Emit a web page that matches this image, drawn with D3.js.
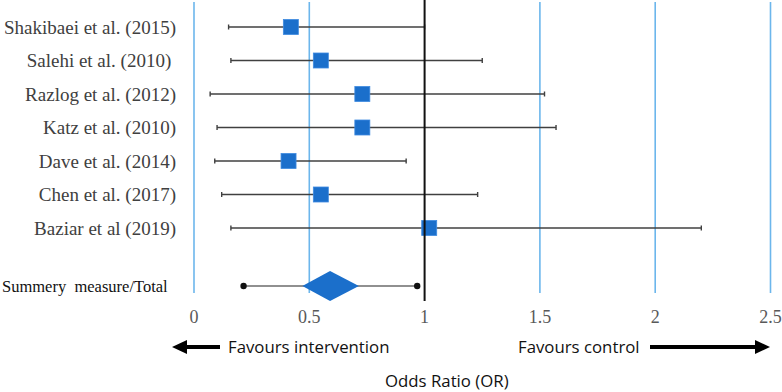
<!DOCTYPE html>
<html>
<head>
<meta charset="utf-8">
<script src="https://cdnjs.cloudflare.com/ajax/libs/d3/7.8.5/d3.min.js"></script>
<style>
  body { margin: 0; background: #fff; }
  svg { display: block; }
</style>
</head>
<body>
<div id="chart"></div>
<script>
// Study data (odds ratio with 95% CI)
const studies = ["Shakibaei et al. (2015)", "Salehi et al. (2010) ", "Razlog et al. (2012)",
                 "Katz et al. (2010)", "Dave et al. (2014)", "Chen et al. (2017)", "Baziar et al (2019)"];
const oddsRatio = [0.42, 0.55, 0.73, 0.73, 0.41, 0.55, 1.02];
const lowerCI   = [0.15, 0.16, 0.07, 0.10, 0.09, 0.12, 0.16];
const upperCI   = [1.00, 1.25, 1.52, 1.57, 0.92, 1.23, 2.20];

// Pooled estimate
const summaryLabel = "Summery  measure/Total";
const summaryOR = 0.59;
const summaryDiamond = [0.47, 0.715];
const summaryCI = [0.215, 0.968];

const xTicks = [0, 0.5, 1, 1.5, 2, 2.5];

const width = 782, height = 392;
const svg = d3.select("#chart").append("svg")
    .attr("width", width)
    .attr("height", height);

const serif = "'Liberation Serif', 'Times New Roman', serif";
const sans = "'Open Sans', 'Liberation Sans', sans-serif";

const x = d3.scaleLinear().domain([0, 2.5]).range([194, 770.5]);
const y = d3.scalePoint().domain(studies).range([27, 228]);
const ySummary = 286;

// Vertical grid lines (blue), the null line at 1 is black
svg.append("g").selectAll("line")
    .data(xTicks.filter(t => t !== 1))
    .join("line")
    .attr("x1", d => x(d)).attr("x2", d => x(d))
    .attr("y1", 2).attr("y2", 293)
    .attr("stroke", "#6cb6ec")
    .attr("stroke-width", 1.6);

// Tick labels
svg.append("g").selectAll("text")
    .data(xTicks)
    .join("text")
    .attr("x", d => x(d))
    .attr("y", 323)
    .attr("text-anchor", "middle")
    .attr("font-family", serif)
    .attr("font-size", 18)
    .attr("fill", "#595959")
    .text(d => d);

// Confidence interval whiskers
const rows = studies.map((s, i) => ({ name: s, or: oddsRatio[i], lo: lowerCI[i], hi: upperCI[i] }));
const g = svg.append("g");

g.selectAll("line.ci")
    .data(rows)
    .join("line")
    .attr("class", "ci")
    .attr("x1", d => x(d.lo)).attr("x2", d => x(d.hi))
    .attr("y1", d => y(d.name)).attr("y2", d => y(d.name))
    .attr("stroke", "#404040")
    .attr("stroke-width", 1.4);

["lo", "hi"].forEach(k => {
    g.selectAll("line.cap-" + k)
        .data(rows)
        .join("line")
        .attr("class", "cap-" + k)
        .attr("x1", d => x(d[k])).attr("x2", d => x(d[k]))
        .attr("y1", d => y(d.name) - 2.5).attr("y2", d => y(d.name) + 2.5)
        .attr("stroke", "#404040")
        .attr("stroke-width", 1.4);
});

// Null line at OR = 1
svg.append("line")
    .attr("x1", x(1)).attr("x2", x(1))
    .attr("y1", 0).attr("y2", 301)
    .attr("stroke", "#111")
    .attr("stroke-width", 2);

// Point estimates
const sq = 15;
g.selectAll("rect")
    .data(rows)
    .join("rect")
    .attr("x", d => x(d.or) - sq / 2)
    .attr("y", d => y(d.name) - sq / 2)
    .attr("width", sq).attr("height", sq)
    .attr("fill", "#1b6fcb")
    .attr("stroke", "#3f8be0")
    .attr("stroke-width", 0.8);

// Study labels
svg.append("g").selectAll("text")
    .data(rows)
    .join("text")
    .attr("x", 176)
    .attr("y", d => y(d.name))
    .attr("dy", "0.35em")
    .attr("text-anchor", "end")
    .attr("font-family", serif)
    .attr("font-size", 19)
    .attr("fill", "#404040")
    .style("white-space", "pre")
    .text(d => d.name);

// Summary row
svg.append("line")
    .attr("x1", x(summaryCI[0])).attr("x2", x(summaryCI[1]))
    .attr("y1", ySummary).attr("y2", ySummary)
    .attr("stroke", "#222")
    .attr("stroke-width", 1.2);

svg.selectAll("circle.sum")
    .data(summaryCI)
    .join("circle")
    .attr("class", "sum")
    .attr("cx", d => x(d)).attr("cy", ySummary)
    .attr("r", 3.2)
    .attr("fill", "#111");

const dh = 15;
svg.append("path")
    .attr("d", `M${x(summaryDiamond[0])},${ySummary} L${x(summaryOR)},${ySummary - dh} L${x(summaryDiamond[1])},${ySummary} L${x(summaryOR)},${ySummary + dh} Z`)
    .attr("fill", "#1b6fcb");

svg.append("text")
    .attr("x", 2)
    .attr("y", ySummary)
    .attr("dy", "0.35em")
    .attr("font-family", serif)
    .attr("font-size", 16.5)
    .attr("fill", "#111")
    .style("white-space", "pre")
    .text(summaryLabel);

// Direction arrows and captions
function arrow(x0, x1, yy) {
    const dir = Math.sign(x1 - x0);
    const headLen = 15, headHalf = 7;
    svg.append("line")
        .attr("x1", x0).attr("x2", x1 - dir * headLen + dir)
        .attr("y1", yy).attr("y2", yy)
        .attr("stroke", "#000")
        .attr("stroke-width", 4);
    svg.append("path")
        .attr("d", `M${x1},${yy} L${x1 - dir * headLen},${yy - headHalf} L${x1 - dir * headLen},${yy + headHalf} Z`)
        .attr("fill", "#000");
}
arrow(220, 172, 347);
arrow(650, 770, 347);

svg.append("text")
    .attr("x", 228).attr("y", 347).attr("dy", "0.35em")
    .attr("font-family", sans).attr("font-size", 16.8).attr("fill", "#111")
    .text("Favours intervention");

svg.append("text")
    .attr("x", 518).attr("y", 347).attr("dy", "0.35em")
    .attr("font-family", sans).attr("font-size", 16.8).attr("fill", "#111")
    .text("Favours control");

svg.append("text")
    .attr("x", 385).attr("y", 381).attr("dy", "0.35em")
    .attr("font-family", sans).attr("font-size", 16.8).attr("fill", "#111")
    .text("Odds Ratio (OR)");
</script>
</body>
</html>
